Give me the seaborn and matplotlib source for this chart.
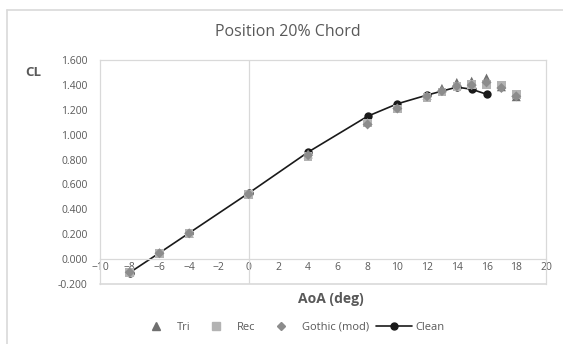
import numpy as np
import pandas as pd
import matplotlib
matplotlib.use("Agg")
import matplotlib.pyplot as plt
from matplotlib.lines import Line2D
import seaborn as sns

# values
aoa = [-8, -6, -4, 0, 4, 8, 10, 12, 13, 14, 15, 16, 17, 18]
cl_tri = [-0.105, 0.048, 0.208, 0.525, 0.845, 1.100, 1.215, 1.315, 1.372, 1.420, 1.430, 1.455, 1.385, 1.305]
cl_rec = [-0.108, 0.046, 0.206, 0.518, 0.825, 1.095, 1.205, 1.300, 1.342, 1.385, 1.405, 1.405, 1.398, 1.322]
cl_gothic = [-0.106, 0.047, 0.207, 0.522, 0.835, 1.082, 1.210, 1.308, 1.350, 1.390, 1.398, 1.420, 1.375, 1.308]

aoa_clean = [-8, -6, -4, 0, 4, 8, 10, 12, 14, 15, 16]
cl_clean = [-0.108, 0.050, 0.210, 0.530, 0.860, 1.148, 1.248, 1.318, 1.382, 1.365, 1.325]

xticks = list(range(-10, 21, 2))
yticks = [-0.2, 0.0, 0.2, 0.4, 0.6, 0.8, 1.0, 1.2, 1.4, 1.6]

sns.set_theme(style="white")
plt.rcParams["font.family"] = ["Open Sans", "DejaVu Sans"]

txt = "#595959"
grid = "#d9d9d9"

fig = plt.figure(figsize=(5.63, 3.44), dpi=100)
ax = fig.add_axes([100 / 563, 1 - 284 / 344, 446 / 563, 224 / 344])

df = pd.DataFrame({"aoa": aoa, "Tri": cl_tri, "Rec": cl_rec, "Gothic (mod)": cl_gothic})
clean = pd.DataFrame({"aoa": aoa_clean, "cl": cl_clean})

# clean line underneath so overlapping grey markers stay visible
sns.lineplot(data=clean, x="aoa", y="cl", color="#1a1a1a", lw=1.2, marker="o",
             markersize=6, markeredgewidth=0, ax=ax, zorder=2)
sns.scatterplot(data=df, x="aoa", y="Tri", marker="^", s=42, color="#6f6f6f",
                edgecolor="none", ax=ax, zorder=3)
sns.scatterplot(data=df, x="aoa", y="Rec", marker="s", s=38, color="#b3b3b3",
                edgecolor="none", ax=ax, zorder=4)
sns.scatterplot(data=df, x="aoa", y="Gothic (mod)", marker="D", s=26, color="#8c8c8c",
                edgecolor="none", ax=ax, zorder=5)

ax.set_xlim(-10, 20)
ax.set_ylim(-0.2, 1.6)
ax.set_xticks(xticks)
ax.set_yticks(yticks)
ax.set_yticklabels([f"{v:.3f}" for v in yticks])
ax.tick_params(axis="both", length=0, labelsize=7.5, labelcolor=txt, pad=2)
ax.tick_params(axis="y", pad=9)

for side in ["left", "right", "top"]:
    ax.spines[side].set_color(grid)
    ax.spines[side].set_linewidth(0.9)
ax.spines["bottom"].set_position(("data", 0))
ax.spines["bottom"].set_color(grid)
ax.spines["bottom"].set_linewidth(0.9)
ax.axhline(-0.2, color=grid, lw=1.2, clip_on=False)
ax.axvline(0, color=grid, lw=0.9, zorder=1)

ax.set_xlabel("")
ax.set_ylabel("")
fig.text(331 / 563, 1 - 299 / 344, "AoA (deg)", ha="center", va="center",
         fontsize=10, fontweight="bold", color=txt)
fig.text(33 / 563, 1 - 72 / 344, "CL", ha="center", va="center",
         fontsize=9.5, fontweight="bold", color=txt)
fig.text(288 / 563, 1 - 32 / 344, "Position 20% Chord", ha="center", va="center",
         fontsize=11.5, color=txt)

handles = [
    Line2D([], [], ls="none", marker="^", color="#6f6f6f", ms=6),
    Line2D([], [], ls="none", marker="s", color="#b3b3b3", ms=6),
    Line2D([], [], ls="none", marker="D", color="#8c8c8c", ms=4.5),
    Line2D([], [], color="#1a1a1a", lw=1.2, marker="o", ms=5),
]
fig.legend(handles, ["Tri", "Rec", "Gothic (mod)", "Clean"], ncol=4, frameon=False,
           loc="center", bbox_to_anchor=(291 / 563, 1 - 327 / 344), fontsize=8,
           labelcolor=txt, handlelength=3.3, columnspacing=0.6, handletextpad=0.25)

# chart area border (cropped)
fig.add_artist(Line2D([7 / 563, 7 / 563], [0, 1 - 10 / 344], transform=fig.transFigure,
                      color=grid, lw=1.2))
fig.add_artist(Line2D([7 / 563, 1], [1 - 10 / 344, 1 - 10 / 344], transform=fig.transFigure,
                      color=grid, lw=1.2))

fig.savefig("out.png", dpi=100)
